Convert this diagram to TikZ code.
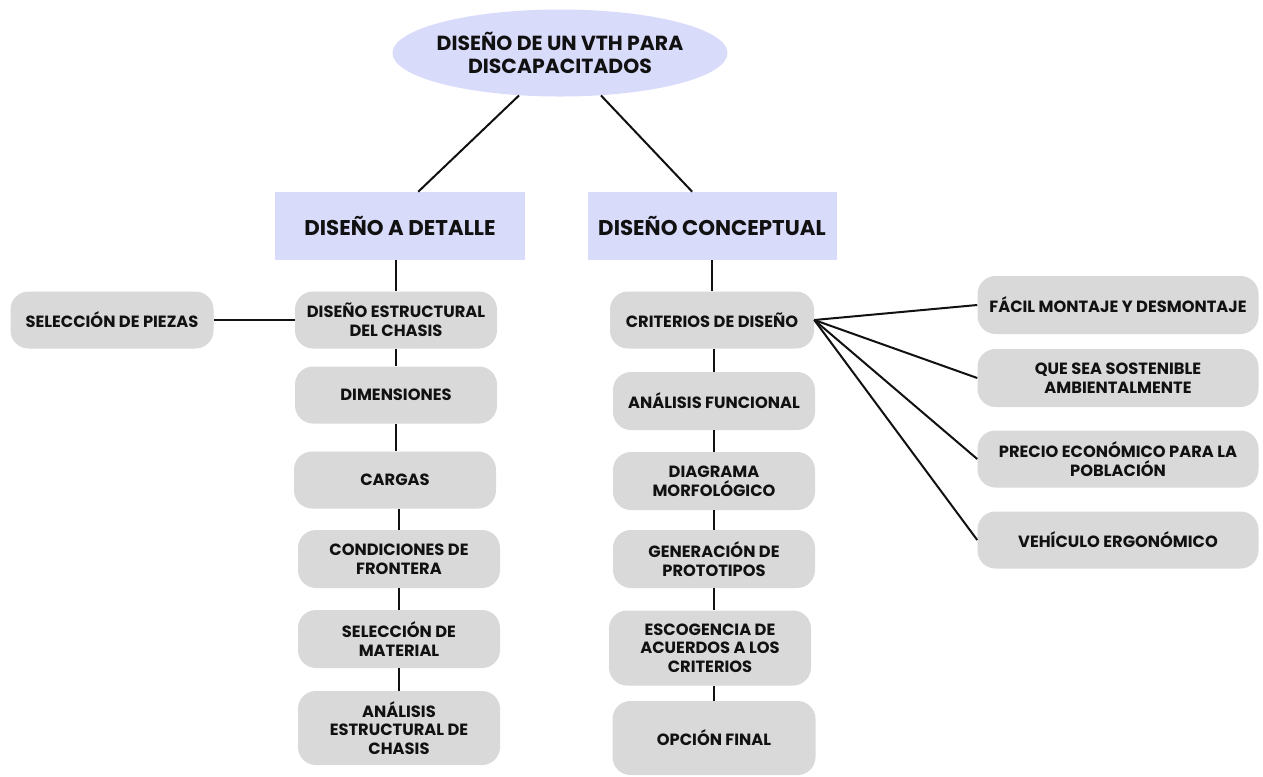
\documentclass[tikz,border=0pt]{standalone}
\usepackage{fontspec}
\setmainfont{Poppins}
\usetikzlibrary{shapes.geometric}
\newdimen\pxu \pxu=0.75pt
\definecolor{lav}{HTML}{D9DBFB}
\definecolor{boxgray}{HTML}{D9D9D9}
\definecolor{ink}{HTML}{111111}
\tikzset{
  rootnode/.style={ellipse, fill=lav, inner sep=0pt, minimum width=335\pxu, minimum height=87\pxu},
  roottext/.style={inner sep=0pt, align=center, text=ink, font=\bfseries\fontsize{15.3}{17.3}\selectfont},
  head/.style={rectangle, fill=lav, inner sep=0pt, minimum height=68\pxu, align=center, text=ink, font=\bfseries\fontsize{16}{18}\selectfont},
  gbox/.style={rectangle, rounded corners=18\pxu, fill=boxgray, inner sep=0pt, minimum width=202\pxu, minimum height=57\pxu, align=center, text=ink, font=\bfseries\fontsize{12.2}{14}\selectfont},
  wbox/.style={gbox, minimum width=281\pxu, minimum height=58\pxu},
  link/.style={draw=ink, line width=1.5pt}
}
\begin{document}
\begin{tikzpicture}[x=0.75pt,y=-0.75pt]
\useasboundingbox[fill=white] (0,0) rectangle (1263,776);
% root and headings
\node[rootnode, label={[roottext]center:{DISEÑO DE UN VTH PARA\\DISCAPACITADOS}}] (root) at (560,53) {};
\node[head, minimum width=250\pxu] (det) at (400,226) {DISEÑO A DETALLE};
\node[head, minimum width=249\pxu] (con) at (712,226) {DISEÑO CONCEPTUAL};
% left column
\node[gbox] (dec) at (396,320) {DISEÑO ESTRUCTURAL\\DEL CHASIS};
\node[gbox] (dim) at (396,395) {DIMENSIONES};
\node[gbox] (car) at (395,480) {CARGAS};
\node[gbox, minimum height=58\pxu] (cfr) at (399,559) {CONDICIONES DE\\FRONTERA};
\node[gbox, minimum height=58\pxu] (sma) at (399,639) {SELECCIÓN DE\\MATERIAL};
\node[gbox, minimum height=74\pxu] (aec) at (399,728) {ANÁLISIS\\ESTRUCTURAL DE\\CHASIS};
\node[gbox, minimum width=203\pxu] (pie) at (112,320) {SELECCIÓN DE PIEZAS};
% right column
\node[gbox, minimum width=204\pxu] (cri) at (712,320) {CRITERIOS DE DISEÑO};
\node[gbox, minimum height=58\pxu] (afu) at (714,401) {ANÁLISIS FUNCIONAL};
\node[gbox, minimum height=58\pxu] (dmo) at (714,481) {DIAGRAMA\\MORFOLÓGICO};
\node[gbox, minimum height=58\pxu] (gpr) at (714,559) {GENERACIÓN DE\\PROTOTIPOS};
\node[gbox, minimum height=75\pxu] (esc) at (710,648) {ESCOGENCIA DE\\ACUERDOS A LOS\\CRITERIOS};
\node[gbox, minimum width=203\pxu, minimum height=74\pxu] (opf) at (714,738) {OPCIÓN FINAL};
% far right
\node[wbox] (fac) at (1118,305) {FÁCIL MONTAJE Y DESMONTAJE};
\node[wbox] (sos) at (1118,378) {QUE SEA SOSTENIBLE\\AMBIENTALMENTE};
\node[wbox, minimum height=57\pxu] (pre) at (1118,459) {PRECIO ECONÓMICO PARA LA\\POBLACIÓN};
\node[wbox, minimum height=57\pxu] (veh) at (1118,540) {VEHÍCULO ERGONÓMICO};
% connectors
\draw[link] (root.226) -- (det.62);
\draw[link] (root.314) -- (con.120);
\draw[link] (dec.north |- det.south) -- (dec.north);
\draw[link] (dec.south) -- (dec.south |- dim.north);
\draw[link] (dim.south) -- (dim.south |- car.north);
\draw[link] (cfr.north |- car.south) -- (cfr.north);
\draw[link] (sma.north |- cfr.south) -- (sma.north);
\draw[link] (sma.south) -- (sma.south |- aec.north);
\draw[link] (pie.east) -- (dec.west);
\draw[link] (con.south) -- (con.south |- cri.north);
\draw[link] (afu.north |- cri.south) -- (afu.north);
\draw[link] (afu.south) -- (afu.south |- dmo.north);
\draw[link] (dmo.south) -- (dmo.south |- gpr.north);
\draw[link] (gpr.south) -- (gpr.south |- esc.north);
\draw[link] (opf.north |- esc.south) -- (opf.north);
\draw[link] (cri.east) -- (fac.west);
\draw[link] (cri.east) -- (sos.west);
\draw[link] (cri.east) -- (pre.west);
\draw[link] (cri.east) -- (veh.west);
\end{tikzpicture}
\end{document}
